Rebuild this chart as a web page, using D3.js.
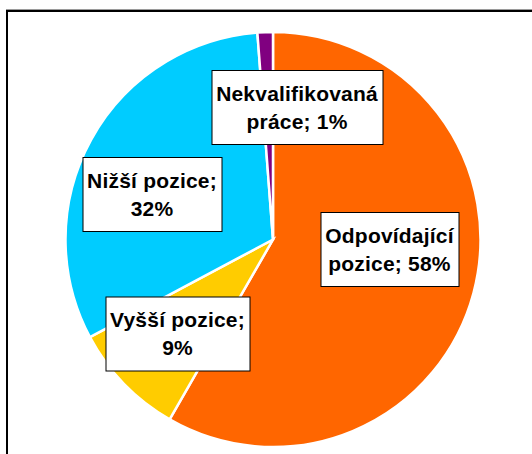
<!DOCTYPE html>
<html>
<head>
<meta charset="utf-8">
<script src="https://cdn.jsdelivr.net/npm/d3@7"></script>
<style>
  html, body { margin: 0; padding: 0; background: #fff; }
  svg { display: block; }
</style>
</head>
<body>
<svg id="chart" width="532" height="454"></svg>
<script>
// ---- data ----
const categories = ["Odpovídající pozice", "Vyšší pozice", "Nižší pozice", "Nekvalifikovaná práce"];
const values = [58.3, 8.9, 31.6, 1.2];
const labelLine1 = ["Odpovídající", "Vyšší pozice;", "Nižší pozice;", "Nekvalifikovaná"];
const labelLine2 = ["pozice; 58%", "9%", "32%", "práce; 1%"];
const colors = ["#FF6600", "#FFCC00", "#00CCFF", "#800080"];

// ---- layout ----
const W = 532, H = 454;
const cx = 273, cy = 239.5, R = 207.5;
// label box centres, as offsets from pie centre (manually placed labels)
const labelOffsets = [[116.5, 9.5], [-95.5, 94], [-121, -45.5], [24, -132.5]];

const svg = d3.select("#chart");
svg.append("rect").attr("width", W).attr("height", H).attr("fill", "#fff");

// chart frame (extends beyond the visible area to right / bottom)
svg.append("line").attr("x1", 6).attr("x2", W).attr("y1", 9.5).attr("y2", 9.5)
  .attr("stroke", "#9a9a9a").attr("stroke-width", 1);
svg.append("rect").attr("x", 7).attr("y", 11).attr("width", W + 20).attr("height", H + 20)
  .attr("fill", "none").attr("stroke", "#000").attr("stroke-width", 2);

const pie = d3.pie().sort(null).value(d => d).startAngle(0).endAngle(2 * Math.PI);
const arcs = pie(values);
const arc = d3.arc().innerRadius(0).outerRadius(R);

const g = svg.append("g").attr("transform", `translate(${cx},${cy})`);
g.selectAll("path.slice").data(arcs).enter().append("path")
  .attr("class", "slice")
  .attr("d", arc)
  .attr("fill", (d, i) => colors[i])
  .attr("stroke", "#fff")
  .attr("stroke-width", 2.5)
  .attr("stroke-linejoin", "miter");

// labels
const fontSize = 21, lineGap = 28, boxH = 74, padX = 4.5;
arcs.forEach((d, i) => {
  const [ox, oy] = labelOffsets[i];
  const lg = g.append("g").attr("transform", `translate(${ox},${oy})`);
  const box = lg.append("rect").attr("fill", "#fff").attr("stroke", "#000").attr("stroke-width", 1);
  const t = lg.append("text")
    .attr("text-anchor", "middle")
    .attr("font-family", "'Liberation Sans', Arial, sans-serif")
    .attr("font-weight", "bold")
    .attr("font-size", fontSize)
    .attr("letter-spacing", 0.2)
    .attr("fill", "#000");
  const capH = fontSize * 0.716;
  t.append("tspan").attr("x", 0).attr("y", -lineGap / 2 + capH / 2).text(labelLine1[i]);
  t.append("tspan").attr("x", 0).attr("y", lineGap / 2 + capH / 2).text(labelLine2[i]);
  const bb = t.node().getBBox();
  const bw = Math.round(bb.width + 2 * padX);
  box.attr("x", -bw / 2 + 0.5).attr("y", -boxH / 2 + 0.5).attr("width", bw).attr("height", boxH);
});
</script>
</body>
</html>
